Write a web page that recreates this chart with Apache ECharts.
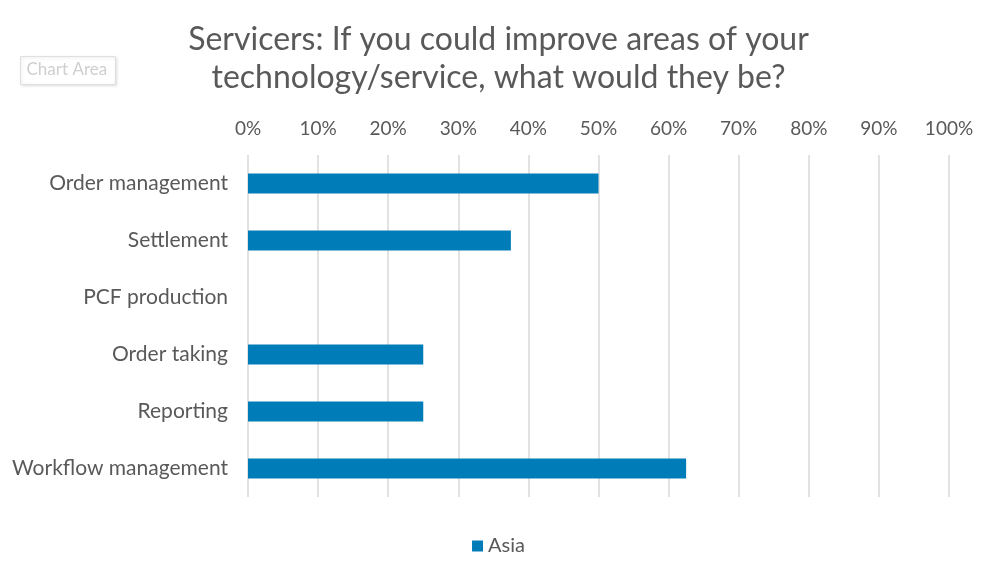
<!DOCTYPE html>
<html><head><meta charset="utf-8">
<script src="https://cdn.jsdelivr.net/npm/echarts@6/dist/echarts.min.js"></script>
<style>html,body{margin:0;padding:0;background:#fff}#c{width:997px;height:578px}</style>
</head><body><div id="c"></div>
<script>
var categories = ['Order management','Settlement','PCF production','Order taking','Reporting','Workflow management'];
var asiaValues = [50, 37.5, 0, 25, 25, 62.5];
var tickLabels = ['0%','10%','20%','30%','40%','50%','60%','70%','80%','90%','100%'];
var titleText = 'Servicers: If you could improve areas of your\ntechnology/service, what would they be?';
var seriesName = 'Asia';

var chart = echarts.init(document.getElementById('c'));
var font = 'Lato, "Open Sans", sans-serif';
chart.setOption({
  animation: false,
  title: {
    text: titleText, left: 'center', top: 16,
    textStyle: {fontFamily: font, fontSize: 32, fontWeight: 'normal', color: '#595959', lineHeight: 38}
  },
  graphic: [{
    type: 'group', left: 20, top: 56,
    children: [
      {type: 'rect', shape: {x: 0, y: 0, width: 95, height: 28}, style: {fill: '#fff', stroke: '#e0e0e0', lineWidth: 1, shadowColor: 'rgba(0,0,0,0.12)', shadowBlur: 3, shadowOffsetX: 1, shadowOffsetY: 1}},
      {type: 'text', x: 6, y: 5, style: {text: 'Chart Area', fontFamily: font, fontSize: 17, fill: '#cfcfcf'}}
    ]
  }],
  legend: {
    data: [seriesName], bottom: 17, left: 'center', icon: 'rect', itemWidth: 11, itemHeight: 11, itemGap: 6,
    textStyle: {fontFamily: font, fontSize: 20, color: '#595959'}
  },
  grid: {left: 248, right: 48, top: 155, bottom: 81, containLabel: false},
  xAxis: {
    type: 'value', position: 'top', min: 0, max: 100, interval: 10,
    axisLine: {show: false}, axisTick: {show: false},
    axisLabel: {fontFamily: font, fontSize: 19, color: '#595959', margin: 17,
      formatter: function(v){ return tickLabels[Math.round(v/10)]; }},
    splitLine: {show: true, lineStyle: {color: '#d9d9d9', width: 1.5}}
  },
  yAxis: {
    type: 'category', data: categories, inverse: true,
    axisLine: {show: false}, axisTick: {show: false},
    axisLabel: {fontFamily: font, fontSize: 21, color: '#595959', margin: 20}
  },
  series: [{
    name: seriesName, type: 'bar', data: asiaValues, barWidth: 20,
    itemStyle: {color: '#007DB8'}
  }]
});
</script></body></html>
